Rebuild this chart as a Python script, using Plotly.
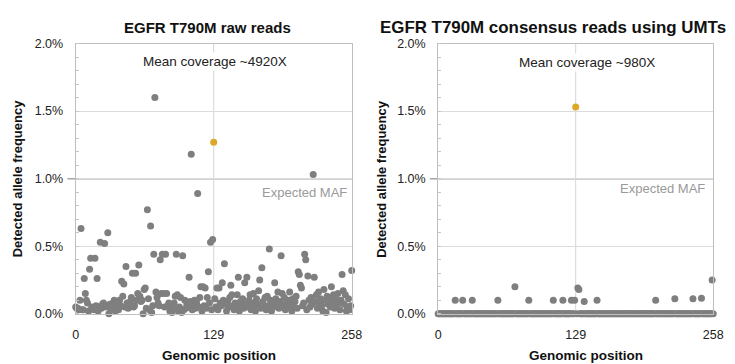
import plotly.graph_objects as go

# Detected allele frequency (%) per genomic position 0..258, raw reads
raw_af = [
    0.05, 0.04, 0.04, 0.03, 0.10, 0.63, 0.03, 0.03, 0.26, 0.15,
    0.10, 0.08, 0.02, 0.33, 0.41, 0.05, 0.04, 0.03, 0.41, 0.06,
    0.26, 0.02, 0.05, 0.53, 0.04, 0.07, 0.08, 0.52, 0.05, 0.06,
    0.60, 0.00, 0.07, 0.03, 0.05, 0.08, 0.10, 0.02, 0.06, 0.04,
    0.03, 0.10, 0.06, 0.24, 0.13, 0.22, 0.05, 0.35, 0.08, 0.04,
    0.07, 0.09, 0.12, 0.30, 0.05, 0.06, 0.30, 0.10, 0.15, 0.36,
    0.13, 0.09, 0.10, 0.00, 0.18, 0.19, 0.04, 0.77, 0.11, 0.03,
    0.65, 0.01, 0.06, 0.44, 1.60, 0.16, 0.12, 0.08, 0.06, 0.40,
    0.15, 0.44, 0.15, 0.05, 0.44, 0.15, 0.06, 0.08, 0.02, 0.07,
    0.01, 0.05, 0.08, 0.13, 0.44, 0.14, 0.02, 0.05, 0.12, 0.01,
    0.43, 0.03, 0.10, 0.04, 0.07, 0.05, 0.27, 0.09, 1.18, 0.03,
    0.06, 0.10, 0.04, 0.08, 0.89, 0.05, 0.12, 0.20, 0.02, 0.20,
    0.06, 0.19, 0.04, 0.12, 0.31, 0.08, 0.53, 0.03, 0.55, 1.27,
    0.11, 0.05, 0.19, 0.03, 0.19, 0.08, 0.06, 0.23, 0.10, 0.37,
    0.07, 0.02, 0.09, 0.05, 0.12, 0.21, 0.14, 0.06, 0.03, 0.08,
    0.05, 0.14, 0.27, 0.02, 0.09, 0.06, 0.11, 0.04, 0.23, 0.07,
    0.27, 0.05, 0.10, 0.14, 0.03, 0.08, 0.15, 0.06, 0.02, 0.11,
    0.07, 0.17, 0.25, 0.04, 0.34, 0.09, 0.05, 0.12, 0.03, 0.13,
    0.06, 0.48, 0.10, 0.02, 0.08, 0.05, 0.23, 0.11, 0.07, 0.16,
    0.04, 0.09, 0.43, 0.15, 0.06, 0.12, 0.03, 0.08, 0.05, 0.10,
    0.16, 0.07, 0.02, 0.11, 0.05, 0.09, 0.13, 0.04, 0.31, 0.29,
    0.21, 0.19, 0.06, 0.08, 0.44, 0.40, 0.03, 0.28, 0.10, 0.05,
    0.12, 0.07, 1.03, 0.27, 0.09, 0.14, 0.04, 0.16, 0.08, 0.11,
    0.06, 0.02, 0.18, 0.10, 0.01, 0.13, 0.07, 0.12, 0.05, 0.20,
    0.09, 0.14, 0.04, 0.11, 0.06, 0.15, 0.08, 0.03, 0.10, 0.29,
    0.17, 0.07, 0.14, 0.02, 0.05, 0.11, 0.03, 0.06, 0.32,
]

# Consensus reads (UMTs): non-zero frequencies, every other position is 0.0
umt_nonzero = {
    16: 0.10, 23: 0.10, 32: 0.10, 56: 0.10, 72: 0.20, 85: 0.10,
    108: 0.10, 117: 0.10, 125: 0.10, 128: 0.10, 129: 1.53, 131: 0.19,
    132: 0.18, 137: 0.09, 149: 0.10, 204: 0.10, 222: 0.11, 239: 0.11,
    247: 0.115, 257: 0.25,
}
positions = list(range(259))
umt_af = [umt_nonzero.get(p, 0.0) for p in positions]

target_pos = 129
x_ticks = [0, 129, 258]
y_ticks = [0.0, 0.5, 1.0, 1.5, 2.0]
y_tick_text = ["0.0%", "0.5%", "1.0%", "1.5%", "2.0%"]

panels = [
    dict(title="EGFR T790M raw reads", title_size=15, coverage="Mean coverage ~4920X",
         values=raw_af, x0=74, x1=355, title_cx=208, ytitle_cx=15, xtitle_cx=220,
         cov_cx=216, cov_y=57, maf_x=352, maf_y=193),
    dict(title="EGFR T790M consensus reads using UMTs", title_size=16.9,
         coverage="Mean coverage ~980X",
         values=umt_af, x0=443, x1=723, title_cx=560, ytitle_cx=385, xtitle_cx=593,
         cov_cx=595, cov_y=58, maf_x=717, maf_y=189),
]

W, H = 735, 364
PLOT_TOP, PLOT_BOTTOM = 38, 319
GRAY = "#7f7f7f"
GOLD = "#DDA829"
FONT = "Liberation Sans, Arial, sans-serif"


def px_x(px):
    return px / W


def px_y(py):
    return 1 - py / H


fig = go.Figure()
annotations = []
shapes = []

for i, p in enumerate(panels, start=1):
    xa = "x" if i == 1 else f"x{i}"
    ya = "y" if i == 1 else f"y{i}"
    other = [(x, v) for x, v in zip(positions, p["values"]) if x != target_pos]
    fig.add_trace(go.Scatter(
        x=[o[0] for o in other], y=[o[1] for o in other], mode="markers",
        marker=dict(color=GRAY, size=7, line=dict(width=0)),
        xaxis=xa, yaxis=ya, cliponaxis=False, showlegend=False,
    ))
    fig.add_trace(go.Scatter(
        x=[target_pos], y=[p["values"][target_pos]], mode="markers",
        marker=dict(color=GOLD, size=7, line=dict(width=0)),
        xaxis=xa, yaxis=ya, cliponaxis=False, showlegend=False,
    ))

    axis_common = dict(showline=True, linecolor="#bfbfbf", linewidth=1, mirror=True,
                       zeroline=False, tickfont=dict(family=FONT, size=12.5, color="#222"))
    fig.update_layout(**{
        ("xaxis" if i == 1 else f"xaxis{i}"): dict(
            domain=[px_x(p["x0"]), px_x(p["x1"])], anchor=ya, range=[0, 258],
            tickvals=x_ticks, showgrid=False, ticks="", ticklabelstandoff=9,
            **axis_common),
        ("yaxis" if i == 1 else f"yaxis{i}"): dict(
            domain=[px_y(PLOT_BOTTOM), px_y(PLOT_TOP)], anchor=xa, range=[0, 2.0],
            tickvals=y_ticks, ticktext=y_tick_text, showgrid=True,
            gridcolor="#dcdcdc", gridwidth=1, ticks="", ticklabelstandoff=9,
            minor=dict(dtick=0.1, ticks="inside", ticklen=3, tickcolor="#c8c8c8",
                       showgrid=False),
            **axis_common),
    })

    # Expected MAF reference line at 1.0%
    shapes.append(dict(type="line", xref=f"{xa} domain", yref=ya, x0=-0.03, x1=1,
                       y0=1.0, y1=1.0, line=dict(color="#a6a6a6", width=1.5),
                       layer="below"))
    # Target position marker line
    shapes.append(dict(type="line", xref=xa, yref=f"{ya} domain", x0=target_pos,
                       x1=target_pos, y0=0, y1=1, line=dict(color="#d6d6d6", width=1),
                       layer="below"))

    annotations += [
        dict(text=f"<b>{p['title']}</b>", x=px_x(p["title_cx"]), y=px_y(21),
             xref="paper", yref="paper", showarrow=False, xanchor="center",
             yanchor="middle", font=dict(family=FONT, size=p["title_size"], color="#111")),
        dict(text=p["coverage"], x=px_x(p["cov_cx"]), xref="paper", y=px_y(p["cov_y"]),
             yref="paper", showarrow=False, xanchor="center", yanchor="middle",
             bgcolor="white", font=dict(family=FONT, size=13.5, color="#222")),
        dict(text="Expected MAF", x=px_x(p["maf_x"]), y=px_y(p["maf_y"]), xref="paper",
             yref="paper", showarrow=False, xanchor="right", yanchor="middle",
             font=dict(family=FONT, size=13, color="#9a9a9a")),
        dict(text="<b>Detected allele frequency</b>", x=px_x(p["ytitle_cx"]),
             y=px_y((PLOT_TOP + PLOT_BOTTOM) / 2), xref="paper", yref="paper",
             showarrow=False, textangle=-90, xanchor="center", yanchor="middle",
             font=dict(family=FONT, size=13, color="#111")),
        dict(text="<b>Genomic position</b>", x=px_x(p["xtitle_cx"]),
             y=px_y(362), xref="paper", yref="paper", showarrow=False,
             xanchor="center", yanchor="middle",
             font=dict(family=FONT, size=13.5, color="#111")),
    ]

fig.update_layout(
    width=W, height=H, margin=dict(l=0, r=0, t=0, b=0),
    paper_bgcolor="white", plot_bgcolor="white",
    annotations=annotations, shapes=shapes, showlegend=False,
)

fig.write_html("out.html")
